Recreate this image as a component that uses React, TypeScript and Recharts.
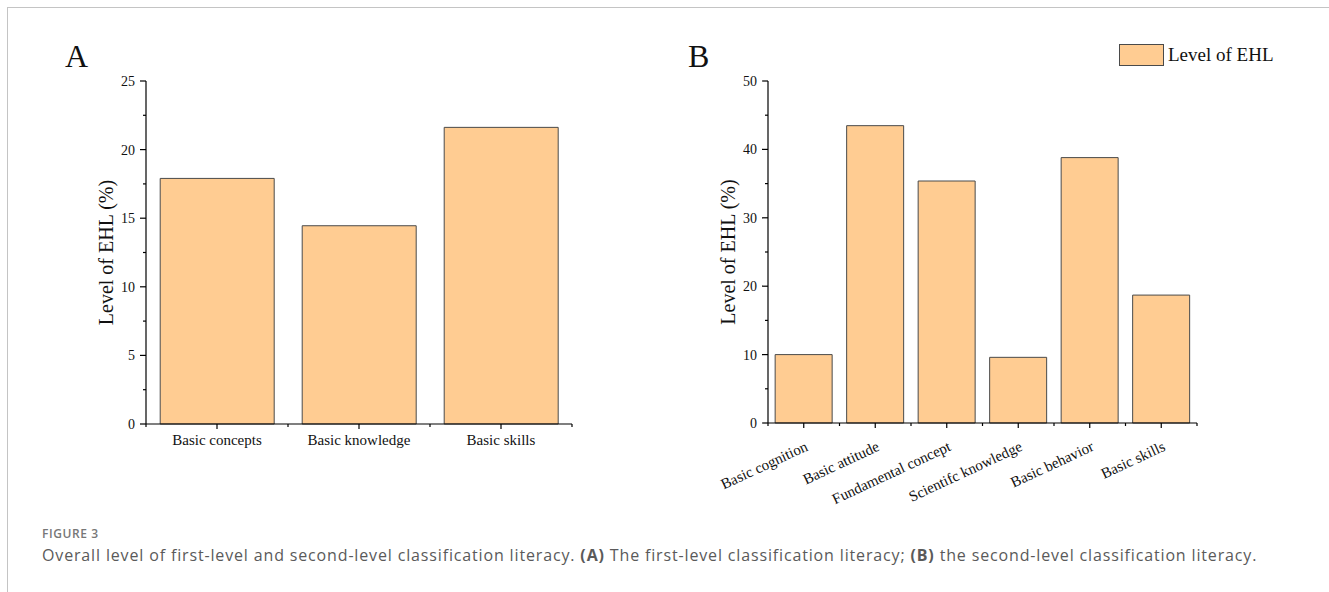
import React from "react";
import { BarChart, Bar, XAxis, YAxis, Legend } from "recharts";

// Panel A: first-level classification
const firstLevelNames = ["Basic concepts", "Basic knowledge", "Basic skills"];
const firstLevelValues = [17.9, 14.45, 21.62];
const firstLevelTicks = [0, 2.5, 5, 7.5, 10, 12.5, 15, 17.5, 20, 22.5, 25];

// Panel B: second-level classification
const secondLevelNames = [
  "Basic cognition",
  "Basic attitude",
  "Fundamental concept",
  "Scientifc knowledge",
  "Basic behavior",
  "Basic skills",
];
const secondLevelValues = [10.0, 43.47, 35.38, 9.6, 38.8, 18.7];
const secondLevelTicks = [0, 5, 10, 15, 20, 25, 30, 35, 40, 45, 50];

const seriesName = "Level of EHL";
const axisTitle = "Level of EHL (%)";

const firstData = firstLevelNames.map((name, i) => ({ name, value: firstLevelValues[i] }));
const secondData = secondLevelNames.map((name, i) => ({ name, value: secondLevelValues[i] }));

const SERIF = '"Liberation Serif", "Times New Roman", serif';
const BAR_FILL = "#FFCC92";
const BAR_STROKE = "#4a4a4a";
const TICK_SIZE = 6;
const TICK_MARGIN = 2;

const YTick = (props: any) => {
  const { x, y, payload, majorStep } = props;
  const axisX = x + TICK_SIZE + TICK_MARGIN;
  const isMajor = payload.value % majorStep === 0;
  return (
    <g>
      <line x1={axisX - (isMajor ? 6 : 3)} x2={axisX} y1={y} y2={y} stroke="#000" strokeWidth={1.2} />
      {isMajor && (
        <text x={axisX - 11} y={y} dy="0.35em" textAnchor="end" fontFamily={SERIF} fontSize={14} fill="#111">
          {payload.value}
        </text>
      )}
    </g>
  );
};

const XTick = (props: any) => {
  const { x, y, payload, index, rotated } = props;
  const axisY = y - TICK_SIZE - TICK_MARGIN;
  const half = payload.offset ?? 0;
  return (
    <g>
      <line x1={x} x2={x} y1={axisY} y2={axisY + 5} stroke="#000" strokeWidth={1.2} />
      {half > 0 && <line x1={x + half} x2={x + half} y1={axisY} y2={axisY + 3} stroke="#000" strokeWidth={1.2} />}
      {half > 0 && index === 0 && (
        <line x1={x - half} x2={x - half} y1={axisY} y2={axisY + 3} stroke="#000" strokeWidth={1.2} />
      )}
      {rotated ? (
        <text
          x={x + 5}
          y={axisY + 27}
          transform={`rotate(-25, ${x + 5}, ${axisY + 27})`}
          textAnchor="end"
          fontFamily={SERIF}
          fontSize={15}
          fill="#111"
        >
          {payload.value}
        </text>
      ) : (
        <text x={x} y={axisY + 10} dy="0.71em" textAnchor="middle" fontFamily={SERIF} fontSize={15} fill="#111">
          {payload.value}
        </text>
      )}
    </g>
  );
};

const AxisTitle = (props: any) => {
  const { viewBox, dx } = props;
  const cx = viewBox.x + viewBox.width - dx;
  const cy = viewBox.y + viewBox.height / 2;
  return (
    <text
      x={cx}
      y={cy}
      dy="0.35em"
      transform={`rotate(-90, ${cx}, ${cy})`}
      textAnchor="middle"
      fontFamily={SERIF}
      fontSize={20}
      fill="#111"
    >
      {axisTitle}
    </text>
  );
};

const LegendBox = (props: any) => {
  const { payload } = props;
  return (
    <div style={{ display: "flex", alignItems: "center" }}>
      {(payload || []).map((p: any) => (
        <React.Fragment key={p.value}>
          <span
            style={{
              display: "inline-block",
              width: 43,
              height: 20,
              background: BAR_FILL,
              border: `1px solid ${BAR_STROKE}`,
            }}
          />
          <span style={{ marginLeft: 4, fontFamily: SERIF, fontSize: 19, color: "#111" }}>{p.value}</span>
        </React.Fragment>
      ))}
    </div>
  );
};

const panelLetter: React.CSSProperties = {
  position: "absolute",
  top: 36,
  fontFamily: SERIF,
  fontSize: 32,
  color: "#111",
  lineHeight: "40px",
};

export default function App() {
  return (
    <div style={{ position: "absolute", left: 0, top: 0, width: 1329, height: 592, background: "#fff", overflow: "hidden" }}>
      <div
        style={{
          position: "absolute",
          left: 7,
          top: 7,
          width: 1330,
          height: 600,
          borderTop: "1px solid #c4c4c4",
          borderLeft: "1px solid #c4c4c4",
        }}
      />
      <div style={{ ...panelLetter, left: 65 }}>A</div>
      <div style={{ ...panelLetter, left: 688 }}>B</div>

      <div style={{ position: "absolute", left: 0, top: 0 }}>
        <BarChart width={640} height={520} data={firstData} margin={{ top: 81, right: 68, bottom: 56, left: 0 }} barCategoryGap="10%">
          <XAxis
            dataKey="name"
            height={40}
            interval={0}
            tickSize={TICK_SIZE}
            tickMargin={TICK_MARGIN}
            tickLine={false}
            axisLine={{ stroke: "#000", strokeWidth: 1.2 }}
            tick={(p: any) => <XTick {...p} />}
          />
          <YAxis
            width={146}
            domain={[0, 25]}
            ticks={firstLevelTicks}
            interval={0}
            tickSize={TICK_SIZE}
            tickMargin={TICK_MARGIN}
            tickLine={false}
            axisLine={{ stroke: "#000", strokeWidth: 1.2 }}
            tick={(p: any) => <YTick {...p} majorStep={5} />}
            label={(p: any) => <AxisTitle {...p} dx={40} />}
          />
          <Bar dataKey="value" name={seriesName} fill={BAR_FILL} stroke={BAR_STROKE} strokeWidth={1} isAnimationActive={false} />
        </BarChart>
      </div>

      <div style={{ position: "absolute", left: 640, top: 0 }}>
        <BarChart width={689} height={520} data={secondData} margin={{ top: 81, right: 132, bottom: 7, left: 0 }} barCategoryGap="10%">
          <XAxis
            dataKey="name"
            height={90}
            interval={0}
            tickSize={TICK_SIZE}
            tickMargin={TICK_MARGIN}
            tickLine={false}
            axisLine={{ stroke: "#000", strokeWidth: 1.2 }}
            tick={(p: any) => <XTick {...p} rotated />}
          />
          <YAxis
            width={128}
            domain={[0, 50]}
            ticks={secondLevelTicks}
            interval={0}
            tickSize={TICK_SIZE}
            tickMargin={TICK_MARGIN}
            tickLine={false}
            axisLine={{ stroke: "#000", strokeWidth: 1.2 }}
            tick={(p: any) => <YTick {...p} majorStep={10} />}
            label={(p: any) => <AxisTitle {...p} dx={40} />}
          />
          <Legend
            layout="vertical"
            align="center"
            verticalAlign="middle"
            wrapperStyle={{ left: 479, top: 44, width: 200 }}
            content={(p: any) => <LegendBox {...p} />}
          />
          <Bar dataKey="value" name={seriesName} fill={BAR_FILL} stroke={BAR_STROKE} strokeWidth={1} isAnimationActive={false} />
        </BarChart>
      </div>

      <div
        style={{
          position: "absolute",
          left: 42,
          top: 526,
          fontFamily: '"Open Sans", sans-serif',
          fontSize: 12,
          fontWeight: 600,
          color: "#777",
          lineHeight: "16px",
          letterSpacing: 0.6,
        }}
      >
        FIGURE 3
      </div>
      <div
        style={{
          position: "absolute",
          left: 42,
          top: 545,
          fontFamily: '"Open Sans", sans-serif',
          fontSize: 16,
          color: "#5a5a5a",
          lineHeight: "20px",
          letterSpacing: 0.85,
          whiteSpace: "nowrap",
        }}
      >
        Overall level of first-level and second-level classification literacy. <b>(A)</b> The first-level classification
        literacy; <b>(B)</b> the second-level classification literacy.
      </div>
    </div>
  );
}
